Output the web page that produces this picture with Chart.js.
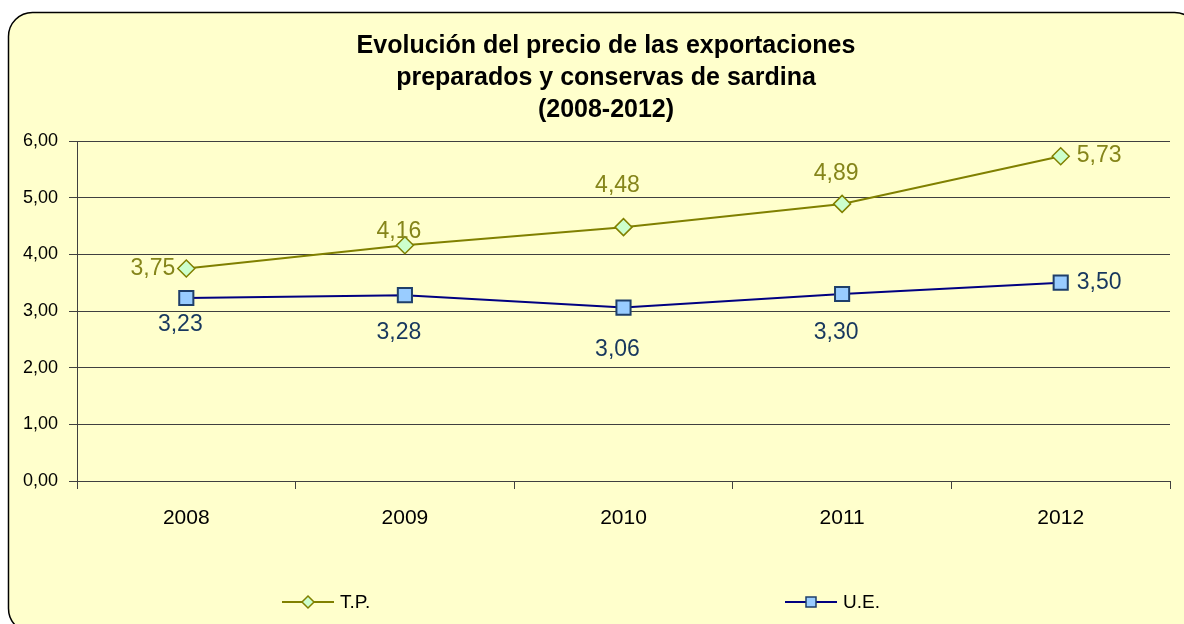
<!DOCTYPE html>
<html>
<head>
<meta charset="utf-8">
<script src="https://cdn.jsdelivr.net/npm/chart.js@4/dist/chart.umd.min.js"></script>
<style>
    html, body { margin: 0; padding: 0; background: #ffffff; }
    #wrap { position: relative; width: 1184px; height: 624px; }
</style>
</head>
<body>
<div id="wrap"><canvas id="priceChart" width="1184" height="624"></canvas></div>
<script>
const years = ["2008", "2009", "2010", "2011", "2012"];
const tpValues = [3.75, 4.16, 4.48, 4.89, 5.73];
const ueValues = [3.23, 3.28, 3.06, 3.30, 3.50];
const titleLines = [
    "Evolución del precio de las exportaciones",
    "preparados y conservas de sardina",
    "(2008-2012)",
];
const seriesNames = ["T.P.", "U.E."];

const FONT = "'Liberation Sans', Arial, sans-serif";

const fmt = (v) => v.toFixed(2).replace(".", ",");

// where each value label sits next to its point (Excel moved some by hand)
const labelPlacement = [
    [["left", 0], ["above", -14], ["above", -41], ["above", -30], ["right", -1]],
    [["below", 27], ["below", 38], ["below", 42], ["below", 39], ["right", 0]],
];

const backgroundBox = {
    id: "backgroundBox",
    beforeDraw(chart) {
        const ctx = chart.ctx;
        ctx.save();
        ctx.beginPath();
        ctx.roundRect(8.5, 12.5, 1190, 620, 24);
        ctx.fillStyle = "#FFFFCC";
        ctx.fill();
        ctx.lineWidth = 1.5;
        ctx.strokeStyle = "#000000";
        ctx.stroke();
        ctx.restore();
    },
};

// title is centred a bit right of the canvas middle, so draw it here
const chartTitle = {
    id: "chartTitle",
    afterDraw(chart) {
        const ctx = chart.ctx;
        ctx.save();
        ctx.fillStyle = "#000000";
        ctx.font = "bold 25px " + FONT;
        ctx.textAlign = "center";
        ctx.textBaseline = "middle";
        titleLines.forEach((line, i) => {
            ctx.fillText(line, 606, 46 + i * 32);
        });
        ctx.restore();
    },
};

const valueLabels = {
    id: "valueLabels",
    afterDatasetsDraw(chart) {
        const ctx = chart.ctx;
        chart.data.datasets.forEach((ds, di) => {
            const meta = chart.getDatasetMeta(di);
            ctx.save();
            ctx.font = ds.labelFont;
            ctx.fillStyle = ds.labelColor;
            ctx.textBaseline = "middle";
            meta.data.forEach((pt, i) => {
                const [where, off] = labelPlacement[di][i];
                const text = fmt(ds.data[i]);
                if (where === "left") {
                    ctx.textAlign = "right";
                    ctx.fillText(text, pt.x - 11, pt.y + off);
                } else if (where === "right") {
                    ctx.textAlign = "left";
                    ctx.fillText(text, pt.x + 16, pt.y + off);
                } else {
                    ctx.textAlign = "center";
                    ctx.fillText(text, pt.x - 6, pt.y + off);
                }
            });
            ctx.restore();
        });
    },
};

// legend spread over the bottom, like the original
const bottomLegend = {
    id: "bottomLegend",
    afterDraw(chart) {
        const ctx = chart.ctx;
        const spots = [282, 785];
        const y = 602;
        chart.data.datasets.forEach((ds, di) => {
            const x0 = spots[di];
            ctx.save();
            ctx.strokeStyle = ds.borderColor;
            ctx.lineWidth = 2;
            ctx.beginPath();
            ctx.moveTo(x0, y);
            ctx.lineTo(x0 + 52, y);
            ctx.stroke();
            ctx.fillStyle = ds.pointBackgroundColor;
            ctx.strokeStyle = ds.pointBorderColor;
            ctx.lineWidth = 1.5;
            ctx.beginPath();
            if (ds.pointStyle === "rectRot") {
                ctx.moveTo(x0 + 26, y - 6);
                ctx.lineTo(x0 + 32, y);
                ctx.lineTo(x0 + 26, y + 6);
                ctx.lineTo(x0 + 20, y);
                ctx.closePath();
            } else {
                ctx.rect(x0 + 21, y - 5, 10, 10);
            }
            ctx.fill();
            ctx.stroke();
            ctx.fillStyle = "#000000";
            ctx.font = "19px " + FONT;
            ctx.textAlign = "left";
            ctx.textBaseline = "middle";
            ctx.fillText(ds.label, x0 + 58, y + 1);
            ctx.restore();
        });
    },
};

const ctx = document.getElementById("priceChart").getContext("2d");

new Chart(ctx, {
    type: "line",
    data: {
        labels: years,
        datasets: [
            {
                label: seriesNames[0],
                data: tpValues,
                borderColor: "#808000",
                borderWidth: 2,
                pointStyle: "rectRot",
                pointRadius: 8.5,
                pointBackgroundColor: "#CCFFCC",
                pointBorderColor: "#808000",
                pointBorderWidth: 1.5,
                tension: 0,
                labelFont: "23px " + FONT,
                labelColor: "#85851A",
            },
            {
                label: seriesNames[1],
                data: ueValues,
                borderColor: "#000080",
                borderWidth: 2,
                pointStyle: "rect",
                pointRadius: 10,
                pointBackgroundColor: "#99CCFF",
                pointBorderColor: "#1F3F6A",
                pointBorderWidth: 2,
                tension: 0,
                labelFont: "23px " + FONT,
                labelColor: "#17375E",
            },
        ],
    },
    options: {
        responsive: false,
        animation: false,
        layout: {
            padding: { left: 0, right: 14, top: 141, bottom: 83 },
        },
        plugins: {
            legend: { display: false },
            tooltip: { enabled: false },
            title: { display: false },
        },
        scales: {
            x: {
                offset: true,
                afterFit: (scale) => { scale.height = 60; },
                grid: {
                    offset: true,
                    drawOnChartArea: false,
                    drawTicks: true,
                    tickLength: 8,
                    color: "#404040",
                },
                border: { display: true, color: "#404040", width: 1 },
                ticks: {
                    color: "#000000",
                    padding: 17,
                    font: { family: FONT, size: 21 },
                },
            },
            y: {
                min: 0,
                max: 6,
                afterFit: (scale) => { scale.width = 77; },
                grid: {
                    color: "#404040",
                    tickLength: 8,
                },
                border: { display: true, color: "#404040", width: 1 },
                ticks: {
                    stepSize: 1,
                    color: "#000000",
                    padding: 11,
                    font: { family: FONT, size: 18 },
                    callback: (v) => fmt(v),
                },
            },
        },
    },
    plugins: [backgroundBox, chartTitle, valueLabels, bottomLegend],
});
</script>
</body>
</html>
